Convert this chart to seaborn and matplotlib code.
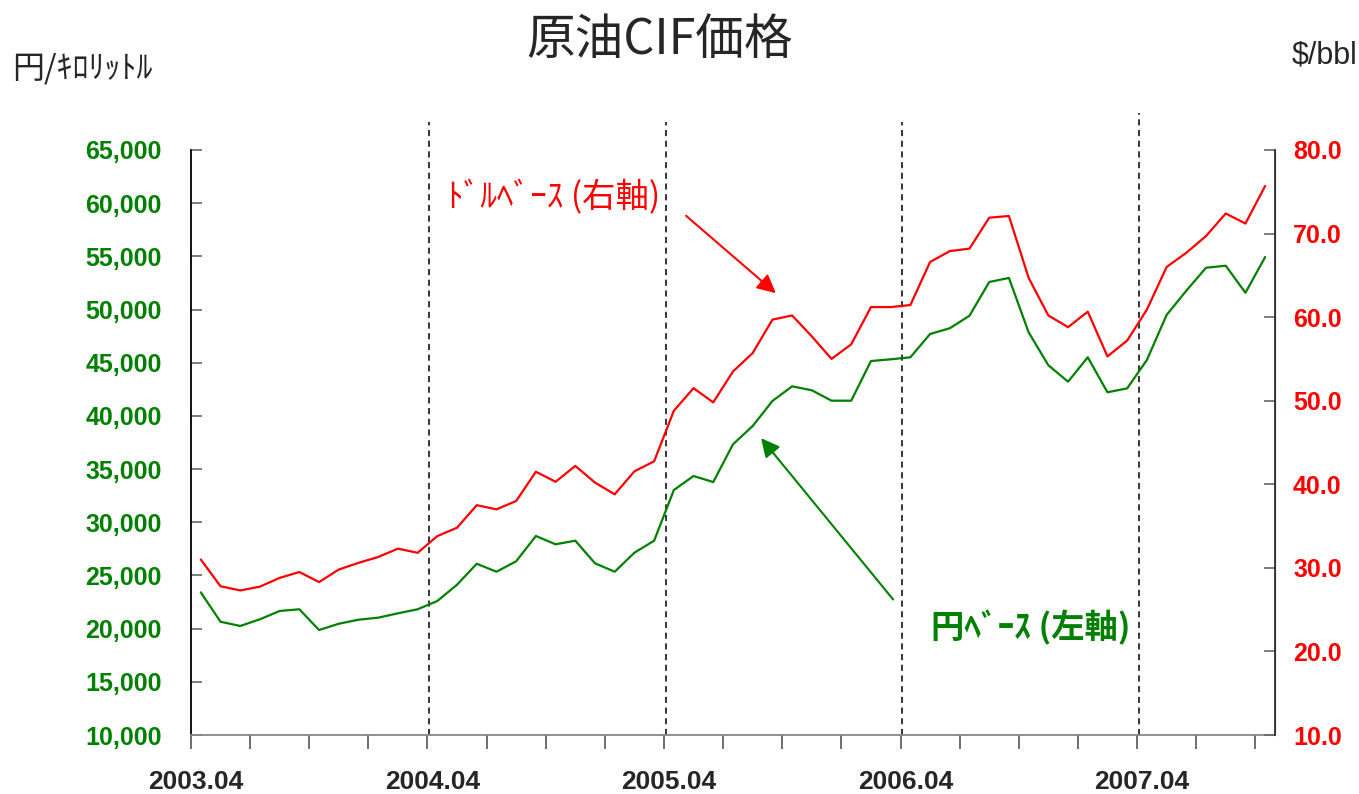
import matplotlib
matplotlib.use("Agg")
import matplotlib.pyplot as plt
import matplotlib.transforms as mtransforms
from matplotlib import font_manager
import pandas as pd
import seaborn as sns

# monthly crude oil CIF price, 2003.04 - 2007.10
months = pd.period_range("2003-04", periods=55, freq="M").strftime("%Y.%m").tolist()
usd_bbl = [31.0, 27.8, 27.3, 27.75, 28.8, 29.5, 28.3, 29.8, 30.6, 31.3,
           32.3, 31.8, 33.8, 34.8, 37.5, 37.0, 38.0, 41.5, 40.3, 42.2,
           40.2, 38.8, 41.55, 42.75, 48.8, 51.5, 49.8, 53.5, 55.7, 59.7,
           60.2, 57.7, 55.0, 56.75, 61.2, 61.2, 61.45, 66.6, 67.9, 68.2,
           71.9, 72.1, 64.7, 60.2, 58.8, 60.65, 55.3, 57.2, 60.9, 66.0,
           67.7, 69.7, 72.4, 71.2, 75.7]
yen_kl = [23410, 20650, 20250, 20880, 21660, 21820, 19870, 20460, 20840, 21030,
          21440, 21820, 22600, 24130, 26100, 25350, 26330, 28710, 27930, 28270,
          26140, 25350, 27140, 28270, 33030, 34350, 33780, 37330, 39050, 41400,
          42780, 42410, 41430, 41430, 45160, 45320, 45510, 47700, 48240, 49420,
          52590, 52970, 47860, 44760, 43220, 45510, 42220, 42590, 45260, 49490,
          51770, 53930, 54120, 51580, 54940]
label_months = ["2003.04", "2004.04", "2005.04", "2006.04", "2007.04"]
divider_months = ["2004.04", "2005.04", "2006.04", "2007.04"]

RED = "#FF0000"
GREEN = "#008000"

sns.set_style("white")
plt.rcParams["font.family"] = ["Noto Sans CJK JP", "DejaVu Sans"]
installed = {f.name for f in font_manager.fontManager.ttflist}
num_font = ["Liberation Sans Narrow"] if "Liberation Sans Narrow" in installed else ["Liberation Sans"]

df = pd.DataFrame({"idx": range(len(months)), "month": months,
                   "usd": usd_bbl, "yen": yen_kl})

fig = plt.figure(figsize=(13.59, 7.94), dpi=100)
ax = fig.add_axes([0.1405, 0.0743, 0.7977, 0.7368])
ax2 = ax.twinx()

sns.lineplot(data=df, x="idx", y="yen", ax=ax, color=GREEN, linewidth=1.6)
sns.lineplot(data=df, x="idx", y="usd", ax=ax2, color=RED, linewidth=1.6)

n = len(months)
ax.set_xlim(-0.5, n - 0.5)
ax.set_ylim(10000, 65000)
ax2.set_ylim(10, 80)
ax.set_xlabel("")
ax.set_ylabel("")
ax2.set_ylabel("")

# dashed year dividers, reaching a little above the plot
for m in divider_months:
    x = months.index(m) - 0.4
    top = 68500 if m == "2007.04" else 67600
    ax.plot([x, x], [10000, top], color="black", linestyle=(0, (4, 3)),
            linewidth=1.1, clip_on=False, zorder=1)

# x axis: ticks every 3 months between categories, labels each April
ax.set_xticks([i - 0.5 for i in range(0, n, 3)], minor=True)
ax.set_xticks([months.index(m) - 0.5 for m in label_months])
ax.set_xticklabels(label_months, family=num_font, fontsize=19, fontweight="bold")
ax.tick_params(axis="x", which="both", direction="out", length=10, width=1.2,
               color="#555555", pad=15, bottom=True)
shift = mtransforms.ScaledTranslation(5 / 100, 0, fig.dpi_scale_trans)
for lab in ax.get_xticklabels():
    lab.set_transform(lab.get_transform() + shift)

yt = list(range(10000, 65001, 5000))
ax.set_yticks(yt)
ax.set_yticklabels([f"{v:,}" for v in yt], family=num_font, fontsize=18,
                   fontweight="bold", color=GREEN)
ax.tick_params(axis="y", direction="in", length=8, width=1.2, color="#666666", pad=21)

rt = list(range(10, 81, 10))
ax2.set_yticks(rt)
ax2.set_yticklabels([f"{v:.1f}" for v in rt], family=num_font, fontsize=18,
                    fontweight="bold", color=RED)
ax2.tick_params(axis="y", direction="in", length=8, width=1.2, color="#666666", pad=13)

for a in (ax, ax2):
    a.spines["top"].set_visible(False)
    a.grid(False)
ax.spines["left"].set_color("black")
ax.spines["left"].set_linewidth(1.3)
ax.spines["bottom"].set_color("#888888")
ax.spines["bottom"].set_linewidth(1.3)
ax2.spines["right"].set_color("#333333")
ax2.spines["right"].set_linewidth(1.3)
ax2.spines["left"].set_visible(False)
ax2.spines["bottom"].set_visible(False)

# series labels and arrows
ax.text(0.335, 0.918, "ﾄﾞﾙﾍﾞｰｽ (右軸)", transform=ax.transAxes, color=RED,
        fontsize=24, ha="center", va="center")
ax.annotate("", xy=(0.5415, 0.7521), xytext=(0.4548, 0.8906),
            xycoords="axes fraction", textcoords="axes fraction",
            arrowprops=dict(arrowstyle="-|>", color=RED, lw=1.5, mutation_scale=28))
ax.text(0.775, 0.183, "円ﾍﾞｰｽ (左軸)", transform=ax.transAxes, color=GREEN,
        fontsize=24, fontweight="bold", ha="center", va="center")
ax.annotate("", xy=(0.5243, 0.5111), xytext=(0.6494, 0.2279),
            xycoords="axes fraction", textcoords="axes fraction",
            arrowprops=dict(arrowstyle="-|>", color=GREEN, lw=1.5, mutation_scale=28))

fig.text(0.485, 0.950, "原油CIF価格", fontsize=35, ha="center", va="center")
fig.text(0.009, 0.914, "円/ｷﾛﾘｯﾄﾙ", fontsize=23, ha="left", va="center")
fig.text(0.999, 0.930, "$/bbl", fontsize=22, ha="right", va="center",
         family=["Liberation Sans", "DejaVu Sans"])

fig.savefig("out.png", dpi=100)
